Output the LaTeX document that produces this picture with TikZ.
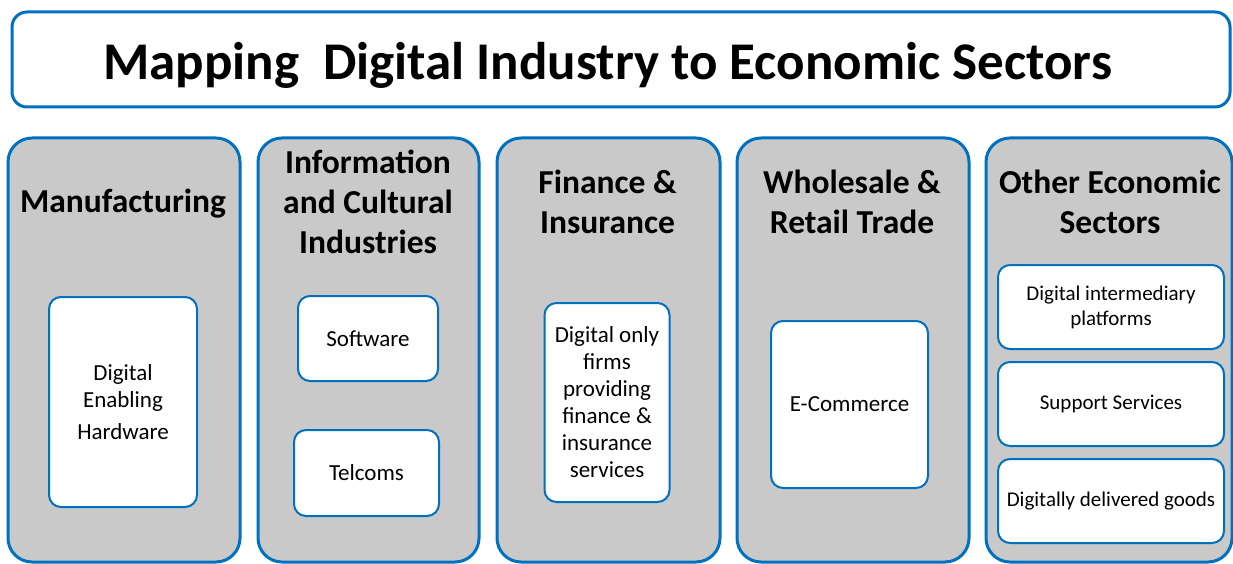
\documentclass[tikz,border=0pt]{standalone}
\usepackage{fontspec}
\setmainfont{Carlito}
\usepackage{xcolor}
\usepackage{tikz}
\usetikzlibrary{positioning}
\definecolor{SectorBlue}{RGB}{0,112,192}
\definecolor{SectorGray}{RGB}{201,201,201}

\begin{document}
\begin{tikzpicture}[
        x=1pt, y=-1pt,
        % Style chung cho khung
        common/.style={
            rectangle,
            draw=SectorBlue,
            inner sep=0pt
        },
        % Khung tieu de
        title_box/.style={
            common,
            line width=3pt,
            rounded corners=15pt,
            fill=white
        },
        % Cot nganh kinh te - nen xam
        sector_box/.style={
            common,
            line width=3pt,
            rounded corners=24pt,
            fill=SectorGray
        },
        % Hop con - nen trang
        item_box/.style={
            common,
            line width=2pt,
            rounded corners=12pt,
            fill=white,
            align=center,
            font=\fontsize{23}{27}\selectfont
        },
        % Hop con cot cuoi - chu nho hon
        small_box/.style={
            item_box,
            font=\fontsize{21}{25}\selectfont
        },
        % Chu tieu de cot
        head_text/.style={
            align=center,
            inner sep=0pt,
            font=\fontsize{33.5}{40}\selectfont\bfseries
        }
    ]

        \useasboundingbox (0,0) rectangle (1233,564);

        % --- TIEU DE ---
        \node[title_box, minimum width=1218pt, minimum height=95pt] (title) at (621,59.5) {};
        \node[inner sep=0pt, font=\fontsize{53}{58}\selectfont\bfseries] (titletext) at (607.5,65)
            {Mapping\ \ Digital Industry to Economic Sectors};

        % --- CAC COT ---
        \node[sector_box, minimum width=232pt, minimum height=424pt] (manu)  at (124,350) {};
        \node[sector_box, minimum width=221pt, minimum height=424pt] (info)  at (368.5,350) {};
        \node[sector_box, minimum width=223pt, minimum height=424pt] (fin)   at (608.5,350) {};
        \node[sector_box, minimum width=232pt, minimum height=424pt] (trade) at (853,350) {};
        \node[sector_box, minimum width=246pt, minimum height=424pt] (other) at (1109,350) {};

        % --- CHU TIEU DE COT ---
        \node[head_text] (manuhead)  at (123,204)   {Manufacturing};
        \node[head_text] (infohead)  at (368,202)   {Information\\and Cultural\\Industries};
        \node[head_text] (finhead)   at (607.5,202) {Finance \&\\Insurance};
        \node[head_text] (tradehead) at (852,202)   {Wholesale \&\\Retail Trade};
        \node[head_text] (otherhead) at (1110,202)  {Other Economic\\Sectors};

        % --- HOP CON ---
        \node[item_box, minimum width=148pt, minimum height=210pt] (hw)     at (123,402)
            {Digital\\Enabling\\[5pt]Hardware};
        \node[item_box, minimum width=140pt, minimum height=85pt]  (soft)   at (368,338.5) {Software};
        \node[item_box, minimum width=145pt, minimum height=86pt]  (tel)    at (366.5,473) {Telcoms};
        \node[item_box, minimum width=125pt, minimum height=199pt] (digfin) at (607,402.5)
            {Digital only\\firms\\providing\\finance \&\\insurance\\services};
        \node[item_box, minimum width=157pt, minimum height=167pt] (ecom)   at (849.5,404.5) {E-Commerce};
        \node[small_box, minimum width=226pt, minimum height=84pt] (plat)   at (1111,307)
            {Digital intermediary\\platforms};
        \node[small_box, minimum width=226pt, minimum height=84pt] (supp)   at (1111,404) {Support Services};
        \node[small_box, minimum width=226pt, minimum height=84pt] (goods)  at (1111,501)
            {Digitally delivered goods};

    \end{tikzpicture}
\end{document}
